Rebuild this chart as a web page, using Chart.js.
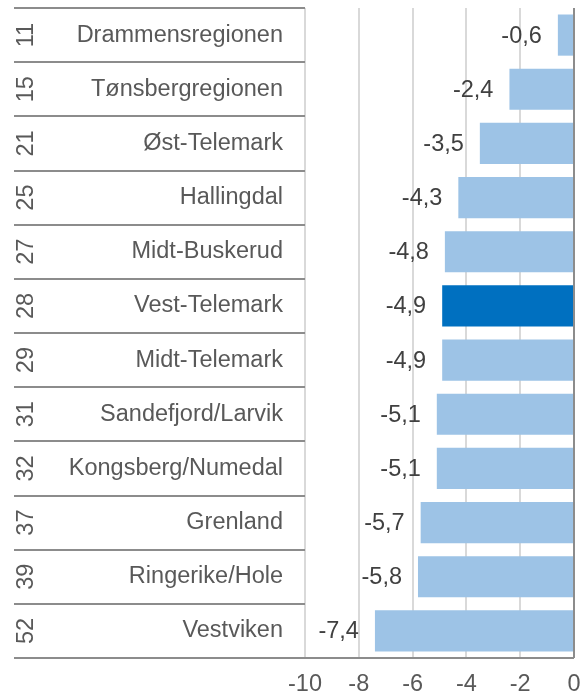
<!DOCTYPE html>
<html>
<head>
<meta charset="utf-8">
<script src="https://cdn.jsdelivr.net/npm/chart.js@4"></script>
<style>
  html, body { margin: 0; padding: 0; background: #ffffff; }
  #wrap { width: 587px; height: 699px; }
</style>
</head>
<body>
<div id="wrap"><canvas id="regionChart" width="587" height="699"></canvas></div>
<script>
const ranks   = ['11', '15', '21', '25', '27', '28', '29', '31', '32', '37', '39', '52'];
const regions = ['Drammensregionen', 'Tønsbergregionen', 'Øst-Telemark', 'Hallingdal', 'Midt-Buskerud',
                 'Vest-Telemark', 'Midt-Telemark', 'Sandefjord/Larvik', 'Kongsberg/Numedal', 'Grenland',
                 'Ringerike/Hole', 'Vestviken'];
const values  = [-0.6, -2.4, -3.5, -4.3, -4.8, -4.9, -4.9, -5.1, -5.1, -5.7, -5.8, -7.4];
const highlightRegion = 'Vest-Telemark';
const xMin = -10, xMax = 0, xStep = 2;

const colorBar       = '#9dc3e6';
const colorHighlight = '#0070c0';
const colorText      = '#595959';
const colorLabel     = '#404040';
const colorGrid      = '#d9d9d9';
const colorLine      = '#8c8c8c';
const fontFamily     = '"Liberation Sans", Arial, sans-serif';
const fontSize       = 23.5;

// table lines, rotated rank numbers, axis line at 0 and value labels
const tablePlugin = {
  id: 'tablePlugin',
  afterDatasetsDraw(chart) {
    const ctx = chart.ctx;
    const y = chart.scales.y;
    const x = chart.scales.x;
    const area = chart.chartArea;
    const lineLeft = 14;

    ctx.save();
    ctx.strokeStyle = colorLine;
    ctx.lineWidth = 2;
    for (let i = 0; i <= regions.length; i++) {
      const py = Math.round(y.getPixelForValue(i - 0.5));
      ctx.beginPath();
      ctx.moveTo(lineLeft, py);
      ctx.lineTo(i === regions.length ? area.right : area.left, py);
      ctx.stroke();
    }
    // vertical axis at zero
    const x0 = x.getPixelForValue(0);
    ctx.beginPath();
    ctx.moveTo(x0, area.top);
    ctx.lineTo(x0, area.bottom);
    ctx.stroke();

    // rank numbers, rotated
    ctx.fillStyle = colorText;
    ctx.font = fontSize + 'px ' + fontFamily;
    ctx.textAlign = 'center';
    ctx.textBaseline = 'middle';
    ranks.forEach((r, i) => {
      const py = y.getPixelForValue(i);
      ctx.save();
      ctx.translate(27, py);
      ctx.rotate(-Math.PI / 2);
      ctx.fillText(r, 0, 0);
      ctx.restore();
    });

    // value labels left of each bar
    const meta = chart.getDatasetMeta(0);
    ctx.fillStyle = colorLabel;
    ctx.textAlign = 'right';
    meta.data.forEach((bar, i) => {
      const txt = values[i].toFixed(1).replace('.', ',');
      ctx.fillText(txt, bar.x - 16, bar.y + 1);
    });
    ctx.restore();
  }
};

new Chart(document.getElementById('regionChart'), {
  type: 'bar',
  data: {
    labels: regions,
    datasets: [{
      data: values,
      backgroundColor: regions.map(r => r === highlightRegion ? colorHighlight : colorBar),
      borderWidth: 0,
      categoryPercentage: 1,
      barPercentage: 0.76
    }]
  },
  options: {
    indexAxis: 'y',
    responsive: false,
    animation: false,
    layout: { padding: { left: 0, right: 13, top: 8, bottom: 0 } },
    plugins: {
      legend: { display: false },
      tooltip: { enabled: false }
    },
    scales: {
      x: {
        min: xMin,
        max: xMax,
        border: { display: false },
        grid: {
          color: colorGrid,
          lineWidth: 2,
          drawTicks: false
        },
        ticks: {
          stepSize: xStep,
          color: colorText,
          padding: 12,
          maxRotation: 0,
          font: { family: fontFamily, size: fontSize },
          callback: v => String(v)
        },
        afterFit: s => {
          s.height = 41;
          s.paddingLeft = 0;
          s.paddingRight = 0;
        }
      },
      y: {
        border: { display: false },
        grid: { display: false, drawTicks: false },
        ticks: {
          color: colorText,
          padding: 22,
          font: { family: fontFamily, size: fontSize }
        },
        afterFit: s => {
          s.width = 305;
          s.paddingTop = 0;
          s.paddingBottom = 0;
        }
      }
    }
  },
  plugins: [tablePlugin]
});
</script>
</body>
</html>
